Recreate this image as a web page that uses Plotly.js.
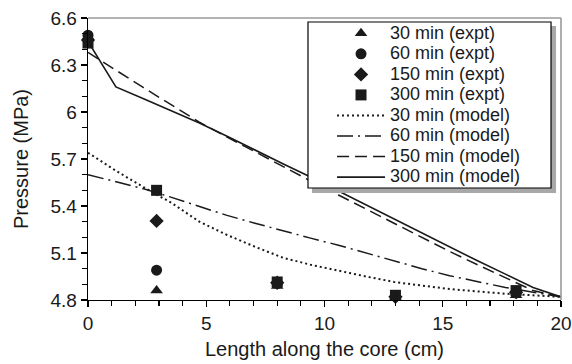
<!DOCTYPE html>
<html><head><meta charset="utf-8">
<script src="https://cdn.plot.ly/plotly-3.0.1.min.js"></script>
<style>html,body{margin:0;padding:0;background:#fff}#chart{width:572px;height:364px}</style>
</head><body><div id="chart"></div>
<script>
// Experimental data (pressure, MPa) at positions along the core (cm)
const exptX = [0, 2.9, 8, 13, 18.1];
const expt30 = [6.47, 4.86, 4.89, 4.82, 4.83];
const expt60 = [6.49, 4.99, 4.905, 4.825, 4.845];
const expt150 = [6.46, 5.305, 4.91, 4.82, 4.85];
const expt300 = [6.44, 5.50, 4.915, 4.83, 4.86];

// Model curves
const modelX = [0, 1.18, 2.35, 3.53, 4.71, 5.88, 7.06, 8.24, 9.41, 10.59, 11.76, 12.94, 14.12, 15.29, 16.47, 17.65, 18.82, 20];
const model30 = [5.74, 5.625, 5.52, 5.42, 5.30, 5.215, 5.14, 5.07, 5.025, 4.985, 4.95, 4.915, 4.89, 4.87, 4.855, 4.84, 4.83, 4.82];
const model60 = [5.60, 5.555, 5.51, 5.455, 5.395, 5.34, 5.29, 5.24, 5.195, 5.15, 5.10, 5.05, 5.00, 4.955, 4.915, 4.88, 4.85, 4.82];
const model150 = [6.38, 6.265, 6.155, 6.045, 5.935, 5.84, 5.745, 5.65, 5.56, 5.47, 5.38, 5.29, 5.20, 5.11, 5.025, 4.94, 4.86, 4.82];
const model300 = [6.45, 6.16, 6.085, 6.01, 5.93, 5.845, 5.76, 5.67, 5.585, 5.495, 5.405, 5.315, 5.225, 5.135, 5.05, 4.965, 4.88, 4.82];

const seriesNames = ['30 min (expt)', '60 min (expt)', '150 min (expt)', '300 min (expt)',
                     '30 min (model)', '60 min (model)', '150 min (model)', '300 min (model)'];

const yTickVals = [4.8, 5.1, 5.4, 5.7, 6, 6.3, 6.6];
const yTickText = ['4.8', '5.1', '5.4', '5.7', '6', '6.3', '6.6'];
const xTickVals = [0, 5, 10, 15, 20];
const xTickText = ['0', '5', '10', '15', '20'];

const INK = '#1a1a1a';
const FONT = 'Liberation Sans, Arial, sans-serif';
const lbl = s => '<span style="font-size:18px">' + s + '</span>';

function exptTrace(y, name, symbol, size) {
  return {x: exptX, y: y, name: lbl(name), type: 'scatter', mode: 'markers',
          marker: {symbol: symbol, size: size, color: INK, line: {width: 0}}, cliponaxis: false};
}
function modelTrace(y, name, dash, width) {
  return {x: modelX, y: y, name: lbl(name), type: 'scatter', mode: 'lines',
          line: {color: INK, width: width, dash: dash}};
}

const data = [
  exptTrace(expt30, seriesNames[0], 'triangle-up', 11),
  exptTrace(expt60, seriesNames[1], 'circle', 11),
  exptTrace(expt150, seriesNames[2], 'diamond', 11),
  exptTrace(expt300, seriesNames[3], 'square', 11),
  modelTrace(model30, seriesNames[4], '2px,3px', 2),
  modelTrace(model60, seriesNames[5], '16px,5px,2px,5px', 1.5),
  modelTrace(model150, seriesNames[6], '12px,6px', 1.5),
  modelTrace(model300, seriesNames[7], 'solid', 1.6)
];

const layout = {
  width: 572, height: 364,
  margin: {l: 88, r: 11, t: 18, b: 64},
  paper_bgcolor: '#fff', plot_bgcolor: '#fff',
  font: {family: FONT, color: INK, size: 19},
  showlegend: true,
  legend: {x: 0.5159, y: 1.0, xanchor: 'left', yanchor: 'top',
           bgcolor: 'rgba(0,0,0,0)', borderwidth: 0, itemwidth: 48,
           font: {family: FONT, size: 13.5, color: INK}},
  xaxis: {range: [0, 20], tickmode: 'array', tickvals: xTickVals, ticktext: xTickText,
          showgrid: false, zeroline: false, showline: true, linecolor: '#000', linewidth: 1.3,
          ticks: 'outside', ticklen: 6, tickwidth: 1.2, tickcolor: '#000',
          tickfont: {size: 19, family: FONT, color: INK},
          minor: {tickmode: 'linear', tick0: 0, dtick: 1, ticks: 'outside', ticklen: 5, tickwidth: 1.1, tickcolor: '#000', showgrid: false},
          title: {text: 'Length along the core (cm)', font: {size: 20, family: FONT, color: INK}, standoff: 9},
          automargin: false},
  yaxis: {range: [4.8, 6.6], tickmode: 'array', tickvals: yTickVals, ticktext: yTickText,
          showgrid: false, zeroline: false, showline: true, linecolor: '#000', linewidth: 1.3,
          ticks: 'outside', ticklen: 6, tickwidth: 1.2, tickcolor: '#000',
          tickfont: {size: 19, family: FONT, color: INK},
          minor: {tickmode: 'linear', tick0: 4.8, dtick: 0.1, ticks: 'outside', ticklen: 5, tickwidth: 1.1, tickcolor: '#000', showgrid: false},
          title: {text: 'Pressure (MPa)', font: {size: 20, family: FONT, color: INK}, standoff: 16},
          automargin: false},
  shapes: [
    // plot frame (top and right, grey)
    {type: 'line', xref: 'paper', yref: 'paper', x0: 0, x1: 1, y0: 1, y1: 1, line: {color: '#9a9a9a', width: 1.6}, layer: 'above'},
    {type: 'line', xref: 'paper', yref: 'paper', x0: 1, x1: 1, y0: 0, y1: 1, line: {color: '#9a9a9a', width: 1.6}, layer: 'above'},
    // legend shadow and box
    {type: 'rect', xref: 'paper', yref: 'paper', x0: 0.4735, x1: 0.9895, y0: 0.9716, y1: 0.3795, fillcolor: '#a8a8a8', line: {width: 0}, layer: 'above'},
    {type: 'rect', xref: 'paper', yref: 'paper', x0: 0.4651, x1: 0.9789, y0: 0.9858, y1: 0.3972, fillcolor: '#fff', line: {color: '#000', width: 1.2}, layer: 'above'}
  ]
};

Plotly.newPlot('chart', data, layout, {displayModeBar: false, staticPlot: true});
</script>
</body></html>
